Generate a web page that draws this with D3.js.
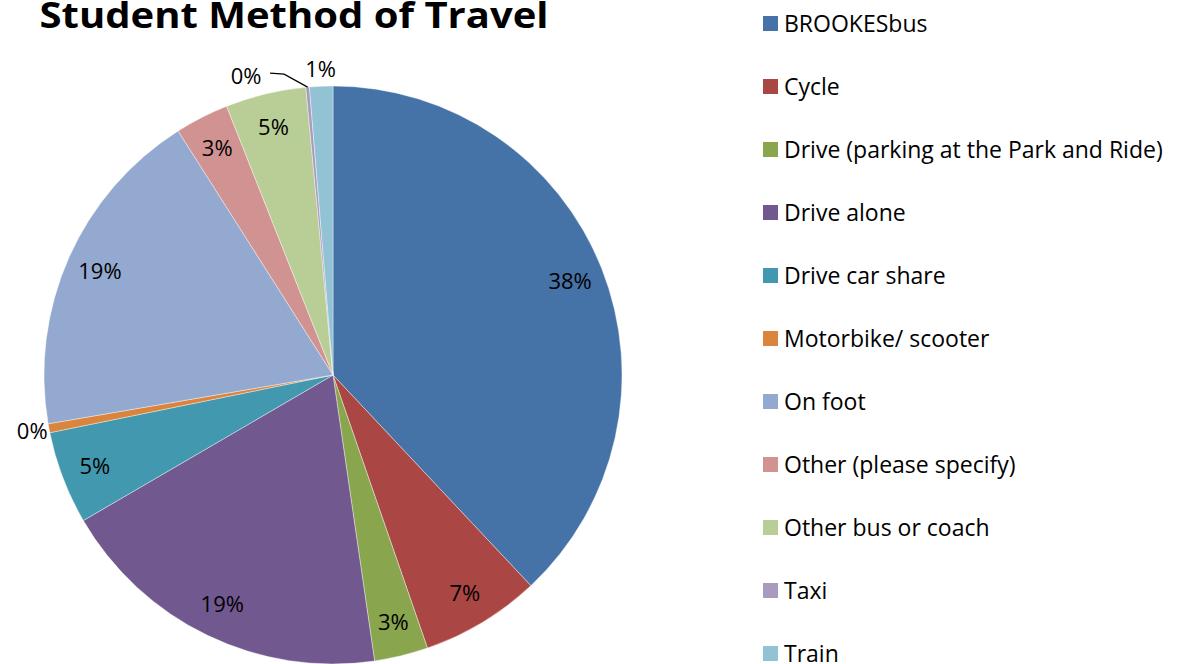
<!DOCTYPE html>
<html>
<head>
<meta charset="utf-8">
<script src="https://cdn.jsdelivr.net/npm/d3@7"></script>
<style>
  body { margin: 0; background: #fff; }
  text { font-family: "Open Sans", Lato, sans-serif; fill: #000; }
</style>
</head>
<body>
<script>
// survey answers, share of students (%)
var categories = ["BROOKESbus", "Cycle", "Drive (parking at the Park and Ride)", "Drive alone",
    "Drive car share", "Motorbike/ scooter", "On foot", "Other (please specify)",
    "Other bus or coach", "Taxi", "Train"];
var shares = [38.0, 6.7, 3.0, 18.9, 5.2, 0.5, 18.7, 3.0, 4.5, 0.2, 1.3];
var labels = ["38%", "7%", "3%", "19%", "5%", "0%", "19%", "3%", "5%", "0%", "1%"];
var colors = ["#4572A7", "#AA4643", "#89A54E", "#71588F", "#4198AF", "#DB843D",
    "#93A9CF", "#D19392", "#B9CD96", "#A99BBD", "#92C3D4"];

window.onload = drawChart();

function drawChart() {
    var width = 1187,
        height = 664;

    var svg = d3.select("body")
        .append("svg")
        .attr("width", width)
        .attr("height", height);

    var cx = 333, cy = 375, radius = 289;

    var data = categories.map(function(c, i) {
        return { name: c, value: shares[i], label: labels[i], color: colors[i] };
    });

    var pie = d3.pie()
        .value(function(d) { return d.value; })
        .sort(null);

    var arc = d3.arc().innerRadius(0).outerRadius(radius);
    var labelArc = d3.arc().innerRadius(255).outerRadius(255);
    var outerArc = d3.arc().innerRadius(306).outerRadius(306);

    var g = svg.append("g").attr("transform", "translate(" + cx + "," + cy + ")");

    var arcs = pie(data);

    g.selectAll(".slice")
        .data(arcs)
        .enter()
        .append("path")
        .attr("class", "slice")
        .attr("d", arc)
        .attr("fill", function(d) { return d.data.color; })
        .attr("stroke", "#fff")
        .attr("stroke-width", 0.4);

    //small slices get their label outside the pie
    arcs.forEach(function(d) {
        var small = d.data.value < 1.5;
        var p = small ? outerArc.centroid(d) : labelArc.centroid(d);
        if (d.data.name == "Taxi") {
            //label pushed left with a leader line, as Excel does
            var edge = d3.arc().innerRadius(radius).outerRadius(radius).centroid(d);
            var lx = p[0] - 60, ly = p[1] + 6;
            g.append("path")
                .attr("d", "M" + (lx + 24) + "," + (ly - 3) + "L" + (lx + 38) + "," + (ly - 2) + "L" + edge[0] + "," + edge[1])
                .attr("fill", "none")
                .attr("stroke", "#000")
                .attr("stroke-width", 1.2);
            p = [lx, ly];
        }
        g.append("text")
            .attr("x", p[0])
            .attr("y", p[1])
            .attr("dy", "0.35em")
            .attr("text-anchor", "middle")
            .style("font-size", "22px")
            .text(d.data.label);
    });

    //title, top is clipped like the source
    svg.append("text")
        .attr("x", 294)
        .attr("y", 28)
        .attr("text-anchor", "middle")
        .style("font-size", "36px")
        .style("font-weight", "bold")
        .attr("textLength", 509)
        .attr("lengthAdjust", "spacingAndGlyphs")
        .text("Student Method of Travel");

    //legend
    var legend = svg.selectAll(".legend")
        .data(data)
        .enter()
        .append("g")
        .attr("class", "legend")
        .attr("transform", function(d, i) { return "translate(763," + (24 + i * 63) + ")"; });

    legend.append("rect")
        .attr("x", 0)
        .attr("y", -8)
        .attr("width", 15)
        .attr("height", 15)
        .attr("fill", function(d) { return d.color; });

    legend.append("text")
        .attr("x", 21)
        .attr("y", 0)
        .attr("dy", "0.36em")
        .style("font-size", "23px")
        .text(function(d) { return d.name; });
}
</script>
</body>
</html>
